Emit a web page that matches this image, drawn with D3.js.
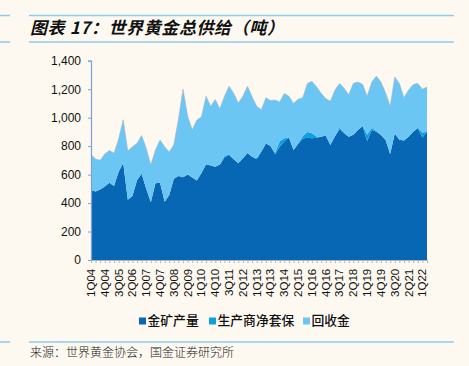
<!DOCTYPE html>
<html>
<head>
<meta charset="utf-8">
<script src="https://cdn.jsdelivr.net/npm/d3@7"></script>
<style>
  body { margin: 0; background: #fdf9f0; }
  svg { display: block; }
</style>
</head>
<body>
<div id="chart"></div>
<script>
// quarters 1Q04 .. 2Q22
const quarters = [];
for (let y = 4; y <= 22; y++) {
  for (let q = 1; q <= 4; q++) {
    if (y === 22 && q > 2) break;
    quarters.push(q + "Q" + String(y).padStart(2, "0"));
  }
}

// mine production (t)
const mine = [491, 482, 496, 517, 543, 520, 620, 681, 424, 450, 560, 606, 500, 406, 540, 543,
  410, 456, 570, 590, 582, 600, 580, 558, 611, 673, 664, 655, 670, 720, 737, 708,
  679, 714, 752, 726, 708, 758, 819, 800, 743, 795, 835, 860, 772, 815, 854, 859,
  855, 858, 866, 875, 808, 870, 918, 889, 866, 880, 913, 940, 836, 913, 901, 878,
  843, 744, 889, 845, 840, 866, 901, 925, 860, 901];

// net producer hedging (t)
const hedging = [0, 0, 0, 0, 0, 0, 0, 0, 0, 0, 0, 0, 0, 0, 0, 0,
  0, 0, 0, 0, 0, 0, 0, 0, 0, 0, 0, 0, 0, 10, 8, 0,
  0, 0, 0, 0, 8, 10, 0, 0, 10, 40, 20, 0, 0, 5, 15, 40,
  35, 10, 0, 0, 0, 0, 12, 8, 0, 0, 0, 5, 45, 15, 5, 0,
  0, 0, 0, 0, 0, 0, 0, 5, 35, 0];

// total supply (t), recycling = total - mine - hedging
const total = [740, 710, 700, 745, 770, 750, 850, 985, 765, 795, 820, 875, 785, 667, 772, 843,
  796, 758, 810, 990, 1200, 1010, 915, 983, 1006, 1150, 1080, 1128, 1062, 1150, 1220, 1171,
  1102, 1150, 1220, 1147, 1080, 1055, 1140, 1120, 1124, 1110, 1170, 1150, 1100, 1130, 1140, 1240,
  1255, 1217, 1171, 1135, 1115, 1194, 1240, 1206, 1160, 1241, 1250, 1235, 1150, 1250, 1292, 1250,
  1175, 1080, 1285, 1240, 1140, 1194, 1233, 1241, 1200, 1215];
const recycling = total.map((t, i) => t - mine[i] - hedging[i]);

const seriesNames = ["金矿产量", "生产商净套保", "回收金"];
const colors = ["#0767b4", "#0aa0e6", "#6cc6f3"];
const yTicks = [0, 200, 400, 600, 800, 1000, 1200, 1400];

const width = 469, height = 366;
const margin = {left: 91, right: 42, top: 61, bottom: 106};

const svg = d3.select("#chart").append("svg")
  .attr("width", width)
  .attr("height", height);

// header / footer rules
const rule = "#8dcdec";
[[0, 10, 15.5], [29, 454, 15.5], [0, 10, 42], [29, 454, 42], [0, 10, 342], [29, 454, 342]]
  .forEach(([x1, x2, y]) => {
    svg.append("line").attr("x1", x1).attr("x2", x2).attr("y1", y).attr("y2", y)
      .attr("stroke", rule).attr("stroke-width", 1.6);
  });

svg.append("text")
  .attr("x", 30).attr("y", 34)
  .attr("font-family", "'Noto Sans CJK SC', sans-serif")
  .attr("font-size", 17).attr("font-weight", "bold").attr("font-style", "italic")
  .attr("letter-spacing", 0.6)
  .attr("fill", "#111")
  .text("图表 17：世界黄金总供给（吨）");

svg.append("text")
  .attr("x", 30).attr("y", 357)
  .attr("font-family", "'Noto Sans CJK SC', sans-serif")
  .attr("font-size", 12).attr("font-weight", 300)
  .attr("fill", "#222")
  .text("来源：世界黄金协会，国金证券研究所");

const xScale = d3.scalePoint()
  .domain(quarters)
  .range([margin.left, width - margin.right]);

const yScale = d3.scaleLinear()
  .domain([0, 1400])
  .range([height - margin.bottom, margin.top - 0.3]);

const rows = quarters.map((q, i) => ({q: q, mine: mine[i], hedging: hedging[i], recycling: recycling[i]}));
const stack = d3.stack().keys(["mine", "hedging", "recycling"]);
const layers = stack(rows);

const area = d3.area()
  .x((d) => xScale(d.data.q))
  .y0((d) => yScale(d[0]))
  .y1((d) => yScale(d[1]));

svg.selectAll(".layer")
  .data(layers)
  .enter()
  .append("path")
    .attr("class", "layer")
    .attr("d", area)
    .attr("fill", (d, i) => colors[i]);

// thin grey outline on top of the total
svg.append("path")
  .datum(layers[2])
  .attr("d", d3.line().x((d) => xScale(d.data.q)).y((d) => yScale(d[1])))
  .attr("fill", "none")
  .attr("stroke", "#9fb6c8")
  .attr("stroke-width", 0.6);

// y axis
const yAxis = svg.append("g")
  .attr("transform", `translate(${margin.left},0)`)
  .call(d3.axisLeft(yScale).tickValues(yTicks).tickSize(3).tickPadding(7)
    .tickFormat(d3.format(",")));
yAxis.select(".domain").attr("stroke", "#7e9fd2").attr("stroke-width", 1.2);
yAxis.selectAll(".tick line").attr("stroke", "#7e9fd2");
yAxis.selectAll("text")
  .attr("font-family", "'Liberation Sans', Arial, sans-serif")
  .attr("font-size", 12).attr("fill", "#111");

// x axis
const xAxis = svg.append("g")
  .attr("transform", `translate(0,${height - margin.bottom})`)
  .call(d3.axisBottom(xScale).tickSize(3).tickSizeOuter(0)
    .tickFormat((d, i) => i % 3 === 0 ? d : ""));
xAxis.select(".domain").attr("stroke", "#b5b5b5").attr("stroke-width", 1.2);
xAxis.selectAll(".tick line").attr("stroke", "#b5b5b5");
xAxis.selectAll("text")
  .attr("font-family", "'Liberation Sans', Arial, sans-serif")
  .attr("font-size", 11.5).attr("fill", "#111")
  .attr("transform", "rotate(-90)")
  .attr("text-anchor", "end")
  .attr("dx", "-0.5em")
  .attr("dy", "-0.05em")
  .attr("y", 0)
  .attr("x", -3)
  .style("dominant-baseline", "central");

// legend
const legendX = [139, 209, 303];
const legend = svg.selectAll(".legend")
  .data(seriesNames)
  .enter()
  .append("g")
    .attr("class", "legend")
    .attr("transform", (d, i) => `translate(${legendX[i]},321)`);
legend.append("rect")
  .attr("x", 0).attr("y", -3.5).attr("width", 7).attr("height", 7)
  .attr("fill", (d, i) => colors[i]);
legend.append("text")
  .attr("x", 8.5).attr("y", 0)
  .attr("dy", "0.35em")
  .attr("font-family", "'Noto Sans CJK SC', sans-serif")
  .attr("font-size", 12.8).attr("font-weight", 500)
  .attr("fill", "#111")
  .text((d) => d);
</script>
</body>
</html>
